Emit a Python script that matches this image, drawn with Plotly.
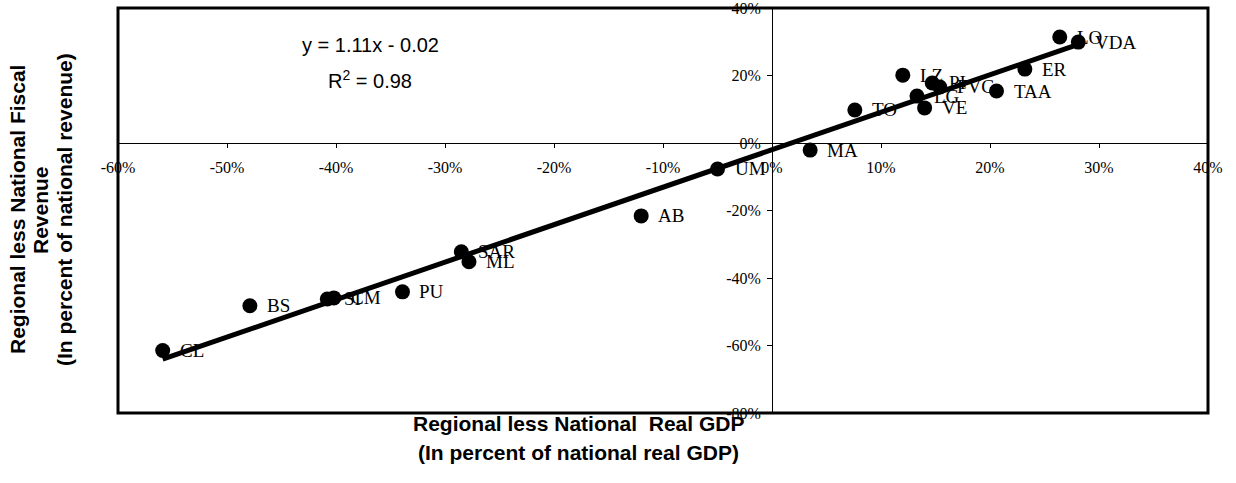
import plotly.graph_objects as go

# Regional differentials versus the national average (percent)
regions = ["CL", "BS", "SI", "CM", "PU", "SAR", "ML", "AB", "UM", "MA",
           "TO", "LZ", "LG", "PI", "FVG", "VE", "TAA", "ER", "LO", "VDA"]
gdp_diff = [-55.9, -47.9, -40.8, -40.2, -33.9, -28.5, -27.8, -12.0, -5.0, 3.5,
            7.6, 12.0, 13.3, 14.7, 15.4, 14.0, 20.6, 23.2, 26.4, 28.1]
revenue_diff = [-61.5, -48.2, -46.2, -45.9, -44.1, -32.2, -35.2, -21.6, -7.7, -2.1,
                9.8, 20.1, 13.9, 17.8, 16.6, 10.4, 15.4, 21.9, 31.4, 29.9]

# Linear trend (fractions): y = slope * x + intercept
slope = 1.11
intercept = -0.02
r_squared = 0.98

x_ticks = list(range(-60, 41, 10))
y_ticks = list(range(-80, 41, 20))

serif = "Liberation Serif, Times New Roman, serif"
sans = "Liberation Sans, Arial, sans-serif"

x_lo, x_hi = min(gdp_diff), max(gdp_diff)
trend_x = [x_lo, x_hi]
trend_y = [slope * v + intercept * 100 for v in trend_x]

fig = go.Figure()
fig.add_trace(go.Scatter(x=trend_x, y=trend_y, mode="lines",
                         line=dict(color="black", width=5), hoverinfo="skip"))
fig.add_trace(go.Scatter(x=gdp_diff, y=revenue_diff, mode="markers",
                         marker=dict(color="black", size=15),
                         text=regions, hoverinfo="text"))

annotations = []
for name, xv, yv in zip(regions, gdp_diff, revenue_diff):
    annotations.append(dict(x=xv, y=yv, text=name, showarrow=False,
                            xanchor="left", yanchor="middle", xshift=15,
                            font=dict(family=serif, size=19, color="black")))

# page geometry: plot area in pixels
W, H = 1236, 483
ml, mr, mt, mb = 118, 28, 8, 70
pw, ph = W - ml - mr, H - mt - mb


def px(xp):
    return (xp - ml) / pw


def py(yp):
    return 1 - (yp - mt) / ph


def note(xp, yp, text, size, angle=0, family=sans):
    return dict(x=px(xp), y=py(yp), xref="paper", yref="paper", text=text,
                showarrow=False, xanchor="center", yanchor="middle",
                textangle=angle, font=dict(family=family, size=size, color="black"))


annotations += [
    note(370, 45, f"y = {slope:.2f}x - {abs(intercept):.2f}", 20),
    note(370, 79, f"R<sup>2</sup> = {r_squared:.2f}", 20),
    note(578, 423, "<b>Regional less National  Real GDP</b>", 21),
    note(578, 452, "<b>(In percent of national real GDP)</b>", 21),
    note(17, 210, "<b>Regional less National Fiscal</b>", 21, -90),
    note(40, 210, "<b>Revenue</b>", 21, -90),
    note(64, 210, "<b>(In percent of national revenue)</b>", 21, -90),
]

fig.update_layout(
    width=W, height=H,
    margin=dict(l=ml, r=mr, t=mt, b=mb, autoexpand=False),
    paper_bgcolor="white", plot_bgcolor="white",
    showlegend=False,
    annotations=annotations,
    xaxis=dict(range=[-60, 40], tickvals=x_ticks, ticktext=[f"{v}%" for v in x_ticks],
               anchor="free", position=2 / 3, showline=True, linecolor="black",
               linewidth=1, ticks="outside", ticklen=4, tickcolor="black",
               showgrid=False, zeroline=False, ticklabelstandoff=6, automargin=False,
               ticklabeloverflow="allow",
               tickfont=dict(family=serif, size=16, color="black")),
    yaxis=dict(range=[-80, 40], tickvals=y_ticks, ticktext=[f"{v}%" for v in y_ticks],
               anchor="free", position=0.6, showline=True, linecolor="black",
               linewidth=1, ticks="outside", ticklen=5, tickcolor="black",
               showgrid=False, zeroline=False, ticklabelstandoff=3, automargin=False,
               ticklabeloverflow="allow",
               tickfont=dict(family=serif, size=16, color="black")),
    shapes=[dict(type="rect", xref="paper", yref="paper", x0=0, y0=0, x1=1, y1=1,
                 line=dict(color="black", width=3))],
)

fig.write_html("out.html")
